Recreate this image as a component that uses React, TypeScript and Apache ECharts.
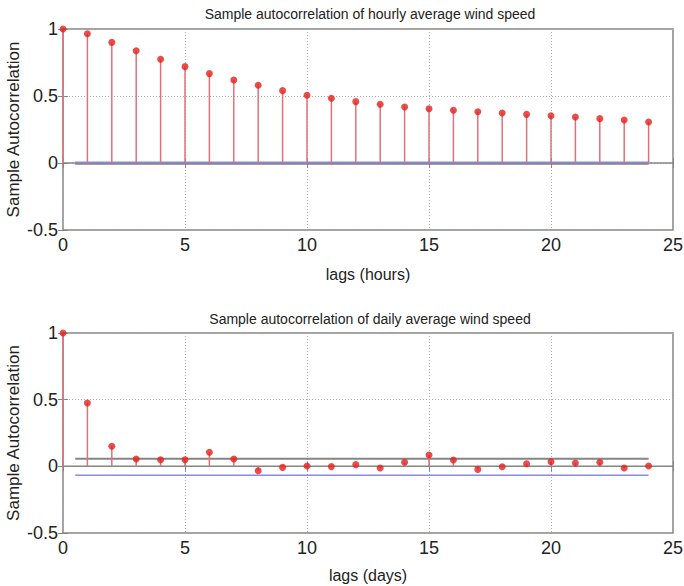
import React, { useEffect, useRef } from "react";
import * as echarts from "echarts";

const hourlyLags = [0, 1, 2, 3, 4, 5, 6, 7, 8, 9, 10, 11, 12, 13, 14, 15, 16, 17, 18, 19, 20, 21, 22, 23, 24];
const hourlyACF = [1.0, 0.965, 0.9, 0.838, 0.774, 0.719, 0.667, 0.619, 0.58, 0.54, 0.505, 0.483, 0.458, 0.438, 0.418, 0.405, 0.393, 0.383, 0.373, 0.363, 0.353, 0.343, 0.331, 0.321, 0.306];
const dailyLags = [0, 1, 2, 3, 4, 5, 6, 7, 8, 9, 10, 11, 12, 13, 14, 15, 16, 17, 18, 19, 20, 21, 22, 23, 24];
const dailyACF = [1.0, 0.475, 0.15, 0.055, 0.05, 0.05, 0.105, 0.055, -0.033, -0.008, 0.003, -0.002, 0.013, -0.013, 0.03, 0.085, 0.048, -0.023, -0.003, 0.02, 0.035, 0.025, 0.03, -0.013, 0.003];
// [blue line, grey line]
const hourlyBounds = [0.006, -0.006];
const dailyBounds = [-0.066, 0.057];
const boundSpan = [0.5, 24];
const xRange = [0, 25, 5];
const yRange = [-0.5, 1, 0.5];
const titles = [
  "Sample autocorrelation of hourly average wind speed",
  "Sample autocorrelation of daily average wind speed",
];
const xNames = ["lags (hours)", "lags (days)"];
const yName = "Sample Autocorrelation";

const FONT = "'Liberation Sans', Arial, sans-serif";
const GREY = "#858585";
const BLUE = "#8a8ae6";
const STEM = "#e2707a";
const DOT = "#e4201c";

export default function App() {
  const ref = useRef<HTMLDivElement>(null);
  useEffect(() => {
    if (!ref.current) return;
    const chart = echarts.init(ref.current, undefined, { renderer: "svg" });
    const grids = [
      { left: 63, right: 11, top: 29, height: 201 },
      { left: 63, right: 11, top: 333, height: 200 },
    ];
    const xAxis: any[] = [];
    const yAxis: any[] = [];
    const series: any[] = [];
    const datasets = [
      { lags: hourlyLags, acf: hourlyACF, bounds: hourlyBounds },
      { lags: dailyLags, acf: dailyACF, bounds: dailyBounds },
    ];
    grids.forEach((g, i) => {
      const tick = { show: true, inside: true, length: 5, lineStyle: { color: GREY, width: 1 } };
      xAxis.push({
        type: "value", gridIndex: i, min: xRange[0], max: xRange[1], interval: xRange[2],
        position: "bottom",
        axisLine: { show: false },
        axisTick: tick,
        axisLabel: { fontSize: 18, color: "#222", fontFamily: FONT, margin: 6 },
        splitLine: { show: true, lineStyle: { type: [1, 2], color: "#aaaaaa", width: 1 } },
        name: xNames[i], nameLocation: "middle", nameGap: i === 0 ? 36 : 34,
        nameMoveOverlap: false,
        nameTextStyle: { fontSize: 16, color: "#222", fontFamily: FONT },
      });
      xAxis.push({
        type: "value", gridIndex: i, min: xRange[0], max: xRange[1], interval: xRange[2],
        position: "top", axisLine: { show: false }, axisTick: tick,
        axisLabel: { show: false }, splitLine: { show: false },
      });
      yAxis.push({
        type: "value", gridIndex: i, min: yRange[0], max: yRange[1], interval: yRange[2],
        position: "left",
        axisLine: { show: false },
        axisTick: tick,
        axisLabel: { fontSize: 18, color: "#222", fontFamily: FONT, margin: 5 },
        splitLine: { show: true, lineStyle: { type: [1, 2], color: "#aaaaaa", width: 1 } },
        name: yName, nameLocation: "middle", nameGap: 41,
        nameMoveOverlap: false,
        nameTextStyle: { fontSize: 17, color: "#222", fontFamily: FONT },
      });
      yAxis.push({
        type: "value", gridIndex: i, min: yRange[0], max: yRange[1], interval: yRange[2],
        position: "right", axisLine: { show: false }, axisTick: tick,
        axisLabel: { show: false }, splitLine: { show: false },
      });
      const d = datasets[i];
      const xi = i * 2;
      const yi = i * 2;
      series.push({
        type: "line", xAxisIndex: xi, yAxisIndex: yi, symbol: "none", z: 2,
        data: [[xRange[0], 0], [xRange[1], 0]],
        lineStyle: { color: GREY, width: 1.5 },
      });
      series.push({
        type: "line", xAxisIndex: xi, yAxisIndex: yi, symbol: "none", z: 3,
        data: [[boundSpan[0], d.bounds[1]], [boundSpan[1], d.bounds[1]]],
        lineStyle: { color: GREY, width: 2 },
      });
      series.push({
        type: "line", xAxisIndex: xi, yAxisIndex: yi, symbol: "none", z: 4,
        data: [[boundSpan[0], d.bounds[0]], [boundSpan[1], d.bounds[0]]],
        lineStyle: { color: BLUE, width: 1.5 },
      });
      series.push({
        type: "bar", xAxisIndex: xi, yAxisIndex: yi, barWidth: 1.5, z: 5,
        data: d.lags.map((l, k) => [l, d.acf[k]]),
        itemStyle: { color: STEM },
      });
      series.push({
        type: "scatter", xAxisIndex: xi, yAxisIndex: yi, symbol: "circle", symbolSize: 7, z: 6,
        data: d.lags.map((l, k) => [l, d.acf[k]]),
        itemStyle: { color: DOT },
      });
    });
    chart.setOption({
      animation: false,
      backgroundColor: "#fff",
      grid: grids.map((g) => ({
        ...g, show: true, borderColor: GREY, borderWidth: 1.5, backgroundColor: "transparent",
        containLabel: false, outerBoundsMode: "none",
      })),
      xAxis,
      yAxis,
      series,
      graphic: titles.map((t, i) => ({
        type: "text",
        x: 370,
        y: i === 0 ? 14 : 319,
        style: { text: t, align: "center", verticalAlign: "middle", fontSize: 14, fontFamily: FONT, fill: "#222" },
      })),
    });
    return () => chart.dispose();
  }, []);
  return <div ref={ref} style={{ position: "absolute", left: 0, top: 0, width: 684, height: 586 }} />;
}
